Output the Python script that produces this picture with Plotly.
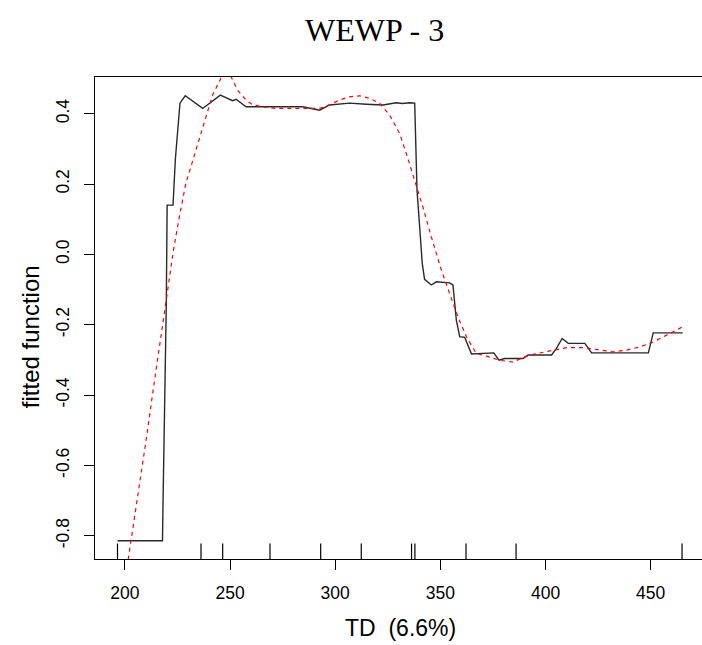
import plotly.graph_objects as go

# ---- data ----
black_x = [196.5, 217.9, 218.1, 218.6, 219.2, 219.7, 220.1, 222.9, 224.0, 225.2, 226.2, 228.7,
           237.0, 245.4, 251.2, 252.9, 257.6, 284.6, 292.6, 297.3, 306.8, 314.8, 322.7, 329.0,
           332.0, 335.4, 337.8, 338.9, 340.5, 341.4, 342.5, 345.7, 348.1, 354.4, 356.0, 356.8,
           357.6, 359.2, 361.6, 364.8, 371.1, 375.4, 377.9, 380.6, 389.3, 391.7, 402.9, 405.2,
           407.9, 410.8, 418.7, 421.9, 448.9, 451.2, 465.2]
black_y = [-0.814, -0.814, -0.72, -0.53, -0.34, -0.14, 0.14, 0.14, 0.27, 0.37, 0.43, 0.451,
           0.415, 0.453, 0.437, 0.441, 0.420, 0.420, 0.410, 0.425, 0.430, 0.427, 0.425, 0.431,
           0.429, 0.431, 0.430, 0.183, 0.060, -0.026, -0.071, -0.087, -0.078, -0.081, -0.087, -0.149,
           -0.187, -0.234, -0.236, -0.283, -0.282, -0.280, -0.301, -0.296, -0.296, -0.286, -0.286, -0.267,
           -0.239, -0.253, -0.253, -0.280, -0.280, -0.223, -0.223]

red_x = [196.5, 199.5, 201.7, 203.6, 206.0, 208.4, 210.8, 213.1, 215.5, 217.1, 218.7, 220.3,
         221.9, 223.1, 226.0, 229.0, 233.8, 237.8, 241.7, 245.7, 248.0, 250.5, 253.6, 257.6,
         260.8, 265.5, 271.9, 283.0, 292.6, 297.3, 302.0, 306.8, 311.6, 316.3, 321.1, 325.9,
         330.6, 333.8, 337.8, 341.7, 345.7, 350.5, 354.4, 358.4, 362.4, 367.1, 371.9, 378.2,
         384.6, 389.3, 394.1, 403.6, 410.0, 417.9, 425.9, 432.2, 438.6, 444.9, 451.2, 457.6, 465.2]
red_y = [-1.07, -0.95, -0.865, -0.790, -0.700, -0.600, -0.500, -0.400, -0.300, -0.230, -0.160, -0.090,
         -0.030, 0.012, 0.110, 0.202, 0.297, 0.373, 0.453, 0.501, 0.515, 0.505, 0.467, 0.439,
         0.425, 0.420, 0.415, 0.415, 0.415, 0.425, 0.439, 0.448, 0.451, 0.444, 0.430, 0.396,
         0.344, 0.287, 0.211, 0.135, 0.050, -0.045, -0.111, -0.178, -0.234, -0.282, -0.289, -0.301,
         -0.306, -0.293, -0.284, -0.272, -0.265, -0.265, -0.272, -0.277, -0.272, -0.263, -0.249, -0.230, -0.206]

rug_x = [196.5, 236.2, 246.5, 269.0, 293.1, 312.4, 336.3, 337.9, 362.2, 386.0, 464.9]

x_ticks = [200, 250, 300, 350, 400, 450]
y_ticks = [-0.8, -0.6, -0.4, -0.2, 0.0, 0.2, 0.4]
y_tick_labels = ["-0.8", "-0.6", "-0.4", "-0.2", "0.0", "0.2", "0.4"]

title_text = "WEWP - 3"
x_title = "TD\u00a0 (6.6%)"
y_title = "fitted function"

fig = go.Figure()
fig.add_trace(go.Scatter(x=black_x, y=black_y, mode="lines",
                         line=dict(color="#2a2a2a", width=1.4), showlegend=False,
                         hoverinfo="skip"))
fig.add_trace(go.Scatter(x=red_x, y=red_y, mode="lines",
                         line=dict(color="red", width=1.2, dash="4px,4px"), showlegend=False,
                         hoverinfo="skip"))

for rx in rug_x:
    fig.add_shape(type="line", xref="x", yref="paper", x0=rx, x1=rx, y0=0, y1=0.032,
                  line=dict(color="black", width=1.2))

font_main = "Liberation Sans, Arial, sans-serif"

fig.update_layout(
    width=702, height=645,
    margin=dict(l=95, r=0, t=77, b=86),
    paper_bgcolor="white", plot_bgcolor="white",
    font=dict(family=font_main, color="black"),
    xaxis=dict(range=[185.8, 474.4], tickvals=x_ticks, ticktext=[str(v) for v in x_ticks],
               ticks="outside", ticklen=10, tickwidth=1, tickcolor="black",
               showline=True, linecolor="black", linewidth=1, mirror=True,
               showgrid=False, zeroline=False, tickfont=dict(size=17.5),
               ticklabelstandoff=8),
    yaxis=dict(range=[-0.866, 0.5044], tickvals=y_ticks, ticktext=y_tick_labels,
               ticks="outside", ticklen=10, tickwidth=1, tickcolor="black",
               showline=True, linecolor="black", linewidth=1, mirror=False,
               showgrid=False, zeroline=False, tickfont=dict(size=17.5), tickangle=-90,
               ticklabelstandoff=8),
    annotations=[
        dict(text=title_text, xref="paper", yref="paper", x=(374 - 95) / 607, y=1 + (77 - 30) / 481.7,
             xanchor="center", yanchor="middle", showarrow=False,
             font=dict(family="Liberation Serif, Times New Roman, serif", size=32, color="black")),
        dict(text=x_title, xref="paper", yref="paper", x=(400 - 95) / 607, y=-(628 - 558.7) / 481.7,
             xanchor="center", yanchor="middle", showarrow=False,
             font=dict(family=font_main, size=23, color="black")),
        dict(text=y_title, xref="paper", yref="paper", x=-(95 - 30) / 607, y=(558.7 - 337) / 481.7,
             xanchor="center", yanchor="middle", showarrow=False, textangle=-90,
             font=dict(family=font_main, size=24, color="black")),
    ],
)

fig.write_html("out.html")
